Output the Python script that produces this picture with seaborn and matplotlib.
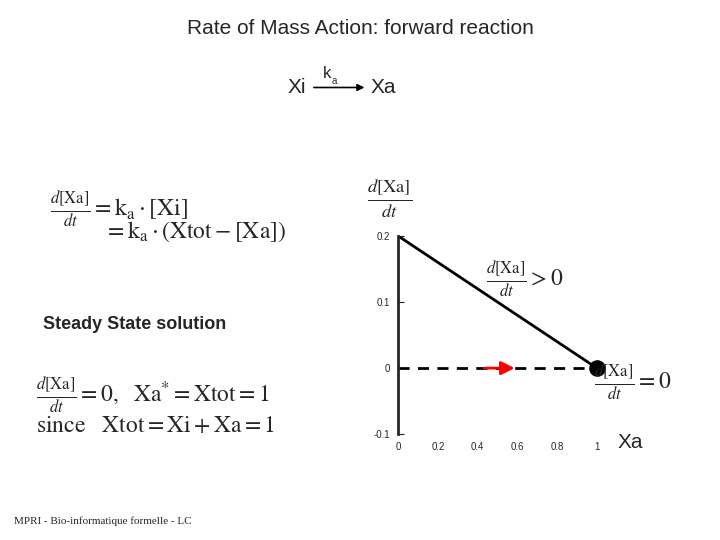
import matplotlib
matplotlib.use("Agg")
import matplotlib.pyplot as plt
import numpy as np
import seaborn as sns

sns.set_style("white")
plt.rcParams["font.family"] = ["Liberation Sans", "DejaVu Sans"]
plt.rcParams["mathtext.fontset"] = "stix"

# data
xa = [0.0, 1.0]
rate = [0.2, 0.0]
steady_x = [0.0, 1.0]
steady_y = [0.0, 0.0]
x_ticks = [0, 0.2, 0.4, 0.6, 0.8, 1]
y_ticks = [-0.1, 0, 0.1, 0.2]

fig = plt.figure(figsize=(7.2, 5.4), dpi=100)
ax = fig.add_axes([0.553, 0.196, 0.276, 0.367])
sns.lineplot(x=xa, y=rate, ax=ax, color="black", linewidth=2)
sns.lineplot(x=steady_x, y=steady_y, ax=ax, color="black", linewidth=2, linestyle=(0, (4, 3)))
ax.annotate("", xy=(0.6, 0), xytext=(0.42, 0),
            arrowprops=dict(arrowstyle="-|>", color="red", lw=2, mutation_scale=20))
ax.scatter([1], [0], s=120, color="black", zorder=5, clip_on=False)
ax.set_xlim(0, 1)
ax.set_ylim(-0.1, 0.2)
ax.set_xticks(x_ticks)
ax.set_xticklabels([str(t) for t in x_ticks], fontsize=7)
ax.set_yticks(y_ticks)
ax.set_yticklabels([str(t) for t in y_ticks], fontsize=7)
ax.tick_params(axis="x", length=0, pad=6)
ax.tick_params(axis="y", length=4, direction="in", left=True, pad=6)
for s in ["top", "right", "bottom"]:
    ax.spines[s].set_visible(False)
ax.spines["left"].set_linewidth(2)
ax.patch.set_alpha(0)

fig.text(0.5, 0.937, "Rate of Mass Action: forward reaction", ha="center", fontsize=15)
fig.text(0.40, 0.828, "Xi", fontsize=15)
fig.text(0.448, 0.855, "k", fontsize=12)
fig.text(0.461, 0.845, "a", fontsize=7)
ax.annotate("", xy=(0.51, 0.838), xytext=(0.432, 0.838), xycoords="figure fraction",
            textcoords="figure fraction", annotation_clip=False,
            arrowprops=dict(arrowstyle="-|>", color="black", lw=1.2))
fig.text(0.515, 0.828, "Xa", fontsize=15)
fig.text(0.858, 0.17, "Xa", fontsize=15)
fig.text(0.51, 0.62, r"$\frac{d[\mathrm{Xa}]}{dt}$", fontsize=19)
fig.text(0.675, 0.47, r"$\frac{d[\mathrm{Xa}]}{dt} > 0$", fontsize=17)
fig.text(0.825, 0.28, r"$\frac{d[\mathrm{Xa}]}{dt} = 0$", fontsize=17)
fig.text(0.07, 0.6, r"$\frac{d[\mathrm{Xa}]}{dt} = \mathrm{k_a}\cdot[\mathrm{Xi}]$", fontsize=17)
fig.text(0.145, 0.56, r"$= \mathrm{k_a}\cdot(\mathrm{Xtot} - [\mathrm{Xa}])$", fontsize=17)
fig.text(0.06, 0.39, "Steady State solution", fontsize=13, fontweight="bold")
fig.text(0.05, 0.255, r"$\frac{d[\mathrm{Xa}]}{dt} = 0,\ \ \mathrm{Xa^{*} = Xtot = 1}$", fontsize=17)
fig.text(0.05, 0.2, r"$\mathrm{since\ \ \ Xtot = Xi + Xa = 1}$", fontsize=17)
fig.text(0.02, 0.03, "MPRI - Bio-informatique formelle - LC", fontsize=8, family="Liberation Serif")

fig.savefig("out.png", dpi=100)
